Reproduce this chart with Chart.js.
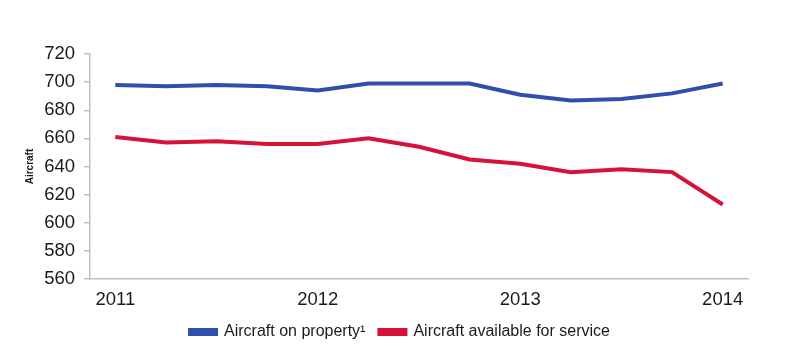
<!DOCTYPE html>
<html>
<head>
<meta charset="utf-8">
<script src="https://cdn.jsdelivr.net/npm/chart.js@4"></script>
<style>
html,body{margin:0;padding:0;background:#fff;}
#wrap{width:800px;height:350px;}
</style>
</head>
<body>
<div id="wrap"><canvas id="c" width="800" height="350"></canvas></div>
<script>
const categories = ['2011','','','','2012','','','','2013','','','','2014'];
const onProperty = [698, 697, 698, 697, 694, 699, 699, 699, 691, 687, 688, 692, 699];
const available = [661, 657, 658, 656, 656, 660, 654, 645, 642, 636, 638, 636, 613];
const yTicks = {min: 560, max: 720, step: 20};
const seriesNames = ['Aircraft on property\u00B9', 'Aircraft available for service'];
const yTitle = 'Aircraft';

const BLUE = '#2f4fae';
const RED = '#d6123a';
const AXIS = '#bfbfbf';
const FONT = "'Liberation Sans', Arial, sans-serif";

new Chart(document.getElementById('c'), {
  type: 'line',
  data: {
    labels: categories,
    datasets: [
      {label: seriesNames[0], data: onProperty, borderColor: BLUE, backgroundColor: BLUE, borderWidth: 4, pointRadius: 0, tension: 0},
      {label: seriesNames[1], data: available, borderColor: RED, backgroundColor: RED, borderWidth: 4, pointRadius: 0, tension: 0}
    ]
  },
  options: {
    responsive: false,
    animation: false,
    devicePixelRatio: 1,
    layout: {padding: {left: 20, right: 20, top: 54, bottom: 0}},
    plugins: {
      tooltip: {enabled: false},
      legend: {
        position: 'bottom',
        labels: {
          boxWidth: 26, boxHeight: 4, padding: 14,
          color: '#1a1a1a',
          font: {family: FONT, size: 16}
        }
      }
    },
    scales: {
      x: {
        offset: true,
        afterFit: (s) => { s.height = 31; },
        grid: {display: true, drawOnChartArea: false, drawTicks: false},
        border: {display: true, color: AXIS, width: 1.5},
        ticks: {autoSkip: false, maxRotation: 0, padding: 10, color: '#1a1a1a', font: {family: FONT, size: 18.5}}
      },
      y: {
        min: yTicks.min, max: yTicks.max,
        afterFit: (s) => { s.width = 70; },
        grid: {display: true, drawOnChartArea: false, drawTicks: true, tickLength: 6, color: AXIS, lineWidth: 1.5},
        border: {display: true, color: AXIS, width: 1.5},
        ticks: {stepSize: yTicks.step, padding: 9, color: '#1a1a1a', font: {family: FONT, size: 18.5}},
        title: {display: true, text: yTitle, color: '#1a1a1a', font: {family: FONT, size: 10, weight: 'bold'}, padding: {top: 4, bottom: 4}}
      },
      yRightSpace: {
        type: 'linear',
        position: 'right',
        afterFit: (s) => { s.width = 32; },
        grid: {display: false},
        border: {display: false},
        ticks: {display: false}
      }
    }
  }
});
</script>
</body>
</html>
